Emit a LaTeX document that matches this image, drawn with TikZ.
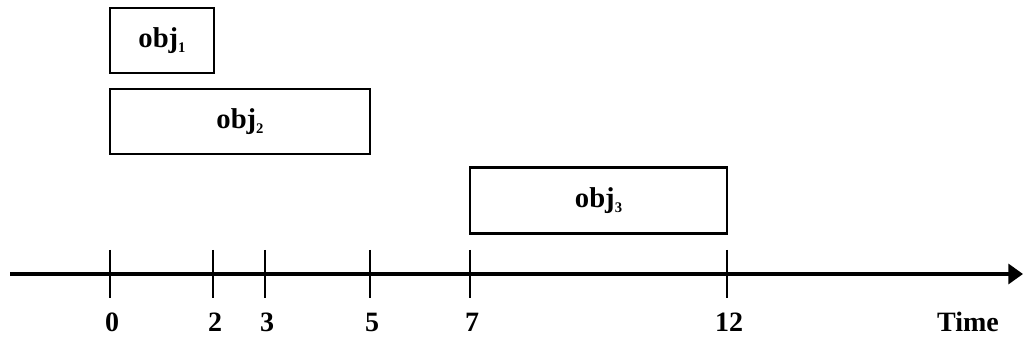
\documentclass[tikz,border=0pt]{standalone}
\usepackage{fontspec}
\setmainfont{Liberation Serif}
\usetikzlibrary{arrows.meta}
\newcommand{\objlabel}[1]{\textbf{obj\raisebox{-0.4ex}{\fontsize{11}{11}\selectfont #1}}}
\tikzset{
  objbox/.style={draw, line width=2pt, inner sep=0pt, font=\fontsize{21.5}{21.5}\selectfont},
  tickmark/.style={line width=2.1pt},
  ticklabel/.style={font=\fontsize{21}{21}\selectfont\bfseries, inner sep=0pt},
  timeaxis/.style={line width=2.4pt, -{Triangle[length=11pt,width=15pt]}}
}
\begin{document}
\begin{tikzpicture}[x=0.75pt, y=-0.75pt]
  \useasboundingbox (0,0) rectangle (1023,341);

  % interval boxes
  \node[objbox, minimum width=78pt, minimum height=48.75pt] (o1) at (162,40.5) {\objlabel{1}};
  \node[objbox, minimum width=195pt, minimum height=48.75pt] (o2) at (240,121.5) {\objlabel{2}};
  \node[objbox, minimum width=192.75pt, minimum height=49.5pt] (o3) at (598.5,200.5) {\objlabel{3}};

  % time axis
  \coordinate (start) at (10,274);
  \coordinate (end) at (1023,274);
  \draw[timeaxis] (start) -- (end);

  % ticks and labels
  \foreach \v/\x in {0/110, 2/213, 3/265, 5/370, 7/470, 12/727} {
    \coordinate (t\v top) at (\x,250);
    \coordinate (t\v bot) at (\x,298);
    \draw[tickmark] (t\v top) -- (t\v bot);
    \node[ticklabel] (l\v) at (\x+2,322) {\v};
  }
  \node[ticklabel] (time) at (968,322) {Time};
\end{tikzpicture}
\end{document}
